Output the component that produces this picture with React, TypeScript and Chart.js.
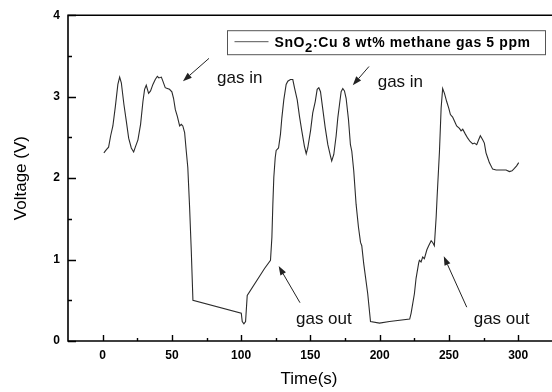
import React, { useEffect, useRef } from 'react';
import { Chart, registerables } from 'chart.js';

Chart.register(...registerables);

// ---- data ----
const timeS = [
  0.9, 2.7, 4.3, 5.8, 7.4, 9.2, 11.0, 12.3, 13.5, 15.4, 17.1, 18.8, 20.7, 22.4, 23.6, 25.5, 27.4, 29.1, 30.3, 31.5,
  33.2, 34.6, 36.3, 38.0, 39.5, 40.6, 42.4, 43.5, 45.2, 46.7, 48.3, 50.0, 51.2, 52.5, 53.9, 55.6, 56.8, 57.9, 59.2, 60.4,
  61.5, 62.8, 64.0, 65.2, 100.1, 100.8, 102.0, 103.2, 104.4, 116.9, 121.2, 122.2, 122.9, 123.6, 124.6, 125.3, 127.0, 128.4, 129.4, 130.8,
  132.5, 133.7, 135.6, 137.3, 138.5, 140.5, 142.1, 143.8, 145.7, 147.0, 148.1, 150.1, 151.7, 153.5, 154.9, 156.1, 157.3, 159.0, 160.7, 162.6,
  164.5, 165.4, 166.9, 168.6, 169.8, 171.0, 172.2, 173.4, 174.6, 175.8, 177.5, 178.9, 179.9, 181.3, 183.0, 184.7, 186.2, 187.1, 188.5, 191.4,
  193.4, 199.9, 207.1, 221.7, 222.7, 225.1, 226.3, 228.2, 228.7, 229.9, 231.1, 232.3, 234.1, 235.4, 237.2, 238.3, 239.5, 240.8, 241.5, 243.2,
  244.4, 245.5, 246.8, 248.4, 249.9, 251.1, 252.7, 254.0, 255.6, 257.6, 258.8, 260.0, 261.9, 263.6, 265.3, 267.2, 268.4, 270.1, 271.5, 272.7,
  274.4, 275.6, 276.8, 278.0, 279.2, 281.6, 284.1, 287.7, 291.3, 293.7, 295.6, 297.3, 298.9, 300.4,
];
const voltageV = [
  2.31, 2.35, 2.38, 2.52, 2.64, 2.88, 3.15, 3.24, 3.17, 2.90, 2.70, 2.49, 2.37, 2.32, 2.38, 2.47, 2.66, 2.94, 3.09, 3.14,
  3.04, 3.07, 3.15, 3.21, 3.25, 3.23, 3.24, 3.19, 3.11, 3.10, 3.09, 3.06, 2.98, 2.84, 2.76, 2.64, 2.66, 2.64, 2.56, 2.33,
  2.13, 1.64, 1.11, 0.50, 0.34, 0.24, 0.21, 0.24, 0.56, 0.89, 0.99, 1.27, 1.68, 2.01, 2.25, 2.34, 2.37, 2.54, 2.74, 2.96,
  3.15, 3.19, 3.21, 3.21, 3.11, 2.96, 2.76, 2.58, 2.39, 2.30, 2.37, 2.58, 2.80, 2.94, 3.09, 3.11, 3.06, 2.84, 2.62, 2.41,
  2.27, 2.21, 2.29, 2.52, 2.74, 2.90, 3.06, 3.10, 3.07, 2.98, 2.72, 2.41, 2.33, 2.09, 1.68, 1.40, 1.21, 1.17, 0.95, 0.58,
  0.24, 0.22, 0.24, 0.27, 0.34, 0.58, 0.77, 0.96, 0.99, 0.97, 1.03, 1.01, 1.12, 1.17, 1.23, 1.21, 1.17, 1.52, 1.77, 2.33,
  2.86, 3.10, 3.04, 2.94, 2.86, 2.78, 2.75, 2.70, 2.64, 2.61, 2.58, 2.60, 2.54, 2.49, 2.45, 2.42, 2.43, 2.41, 2.47, 2.52,
  2.47, 2.43, 2.31, 2.25, 2.19, 2.11, 2.10, 2.10, 2.10, 2.08, 2.09, 2.12, 2.15, 2.19,
];

const xTickValues = [0, 50, 100, 150, 200, 250, 300];
const xMinorValues = [25, 75, 125, 175, 225, 275];
const yTickValues = [0, 1, 2, 3, 4];
const yMinorValues = [0.5, 1.5, 2.5, 3.5];

const xTitle = 'Time(s)';
const yTitle = 'Voltage (V)';
const legendParts = ['SnO', '2', ':Cu 8 wt% methane gas 5 ppm'];

// annotation texts and their anchors (data coordinates)
const noteTexts = ['gas in', 'gas in', 'gas out', 'gas out'];
const noteX = [82.6, 198.6, 139.6, 267.9];
const noteY = [3.22, 3.17, 0.265, 0.265];
const arrowTailX = [76.8, 192.3, 142.5, 262.9];
const arrowTailY = [3.47, 3.37, 0.47, 0.415];
const arrowHeadX = [58.0, 180.6, 127.1, 246.3];
const arrowHeadY = [3.19, 3.14, 0.92, 1.04];

const FONT = '"Liberation Sans", Arial, Helvetica, sans-serif';

function drawSpaced(ctx: CanvasRenderingContext2D, text: string, x: number, y: number, spacing: number) {
  let cx = x;
  for (const ch of text) {
    ctx.fillText(ch, cx, y);
    cx += ctx.measureText(ch).width + spacing;
  }
  return cx;
}

const decorPlugin = {
  id: 'decor',
  afterDraw(chart: any) {
    const { ctx, chartArea: ca } = chart;
    const xs = chart.scales.x;
    const ys = chart.scales.y;
    ctx.save();

    // frame
    ctx.strokeStyle = '#000';
    ctx.lineWidth = 1.6;
    ctx.beginPath();
    ctx.moveTo(chart.width, ca.top);
    ctx.lineTo(ca.left, ca.top);
    ctx.lineTo(ca.left, ca.bottom);
    ctx.lineTo(chart.width, ca.bottom);
    ctx.stroke();

    // inward ticks
    ctx.lineWidth = 1.4;
    ctx.beginPath();
    xTickValues.forEach((v) => {
      const px = Math.round(xs.getPixelForValue(v)) + 0.5;
      ctx.moveTo(px, ca.bottom);
      ctx.lineTo(px, ca.bottom - 6);
    });
    xMinorValues.forEach((v) => {
      const px = Math.round(xs.getPixelForValue(v)) + 0.5;
      ctx.moveTo(px, ca.bottom);
      ctx.lineTo(px, ca.bottom - 3);
    });
    yTickValues.forEach((v) => {
      const py = Math.round(ys.getPixelForValue(v)) + 0.5;
      ctx.moveTo(ca.left, py);
      ctx.lineTo(ca.left + 8, py);
    });
    yMinorValues.forEach((v) => {
      const py = Math.round(ys.getPixelForValue(v)) + 0.5;
      ctx.moveTo(ca.left, py);
      ctx.lineTo(ca.left + 4, py);
    });
    ctx.stroke();

    // legend box
    const bx = ca.right - 322.5;
    const by = ca.top + 15.5;
    const bw = 318;
    const bh = 24;
    ctx.fillStyle = '#fff';
    ctx.fillRect(bx, by, bw, bh);
    ctx.strokeStyle = '#555';
    ctx.lineWidth = 1;
    ctx.strokeRect(bx, by, bw, bh);
    ctx.strokeStyle = '#555';
    ctx.beginPath();
    ctx.moveTo(bx + 7, by + 11);
    ctx.lineTo(bx + 41, by + 11);
    ctx.stroke();
    ctx.fillStyle = '#000';
    ctx.textBaseline = 'alphabetic';
    ctx.textAlign = 'left';
    ctx.font = `bold 14px ${FONT}`;
    let cx = drawSpaced(ctx, legendParts[0], bx + 47, by + 16, 0.6);
    ctx.font = `bold 13px ${FONT}`;
    cx = drawSpaced(ctx, legendParts[1], cx, by + 21.5, 0.6);
    ctx.font = `bold 14px ${FONT}`;
    drawSpaced(ctx, legendParts[2], cx, by + 16, 0.6);

    // annotations
    ctx.font = `17px ${FONT}`;
    ctx.textBaseline = 'middle';
    ctx.fillStyle = '#111';
    noteTexts.forEach((t, i) => {
      ctx.fillText(t, xs.getPixelForValue(noteX[i]), ys.getPixelForValue(noteY[i]));
    });

    // arrows
    ctx.strokeStyle = '#222';
    ctx.fillStyle = '#222';
    ctx.lineWidth = 1;
    noteTexts.forEach((_, i) => {
      const tx = xs.getPixelForValue(arrowTailX[i]);
      const ty = ys.getPixelForValue(arrowTailY[i]);
      const hx = xs.getPixelForValue(arrowHeadX[i]);
      const hy = ys.getPixelForValue(arrowHeadY[i]);
      const ang = Math.atan2(hy - ty, hx - tx);
      const L = 9;
      const W = 3.2;
      const bx2 = hx - L * Math.cos(ang);
      const by2 = hy - L * Math.sin(ang);
      ctx.beginPath();
      ctx.moveTo(tx, ty);
      ctx.lineTo(bx2, by2);
      ctx.stroke();
      ctx.beginPath();
      ctx.moveTo(hx, hy);
      ctx.lineTo(bx2 + W * Math.sin(ang), by2 - W * Math.cos(ang));
      ctx.lineTo(bx2 - W * Math.sin(ang), by2 + W * Math.cos(ang));
      ctx.closePath();
      ctx.fill();
    });

    ctx.restore();
  },
};

export default function App() {
  const ref = useRef<HTMLCanvasElement | null>(null);

  useEffect(() => {
    if (!ref.current) return;
    const points = timeS.map((t, i) => ({ x: t, y: voltageV[i] }));
    const chart = new Chart(ref.current, {
      type: 'line',
      data: {
        datasets: [
          {
            label: legendParts.join(''),
            data: points,
            borderColor: '#2b2b2b',
            borderWidth: 1.1,
            pointRadius: 0,
            tension: 0,
            fill: false,
          },
        ],
      },
      options: {
        animation: false,
        responsive: false,
        devicePixelRatio: 1,
        layout: { padding: { top: 13, right: 2, left: 0, bottom: 0 } },
        plugins: { legend: { display: false }, tooltip: { enabled: false } },
        scales: {
          x: {
            type: 'linear',
            min: -25,
            max: 323,
            afterBuildTicks: (s: any) => {
              s.ticks = xTickValues.map((v) => ({ value: v }));
            },
            afterFit: (s: any) => {
              s.height = 51;
            },
            grid: { display: false, drawTicks: false },
            border: { display: false },
            ticks: {
              padding: 7,
              maxRotation: 0,
              color: '#000',
              font: { family: FONT, size: 12, weight: 'bold' },
            },
            title: {
              display: true,
              text: xTitle,
              color: '#000',
              font: { family: FONT, size: 17 },
              padding: { top: 0, bottom: 2 },
            },
          },
          y: {
            type: 'linear',
            min: 0,
            max: 4,
            afterBuildTicks: (s: any) => {
              s.ticks = yTickValues.map((v) => ({ value: v }));
            },
            afterFit: (s: any) => {
              s.width = 68;
            },
            grid: { display: false, drawTicks: false },
            border: { display: false },
            ticks: {
              padding: 8,
              color: '#000',
              font: { family: FONT, size: 12, weight: 'bold' },
            },
            title: {
              display: true,
              text: yTitle,
              color: '#000',
              font: { family: FONT, size: 17 },
              padding: { top: 11.5, bottom: 0 },
            },
          },
        },
      },
      plugins: [decorPlugin],
    });
    return () => chart.destroy();
  }, []);

  return (
    <div style={{ position: 'fixed', left: 0, top: 0, width: 552, height: 392, background: '#fff' }}>
      <canvas ref={ref} width={552} height={392} style={{ display: 'block' }} />
    </div>
  );
}
